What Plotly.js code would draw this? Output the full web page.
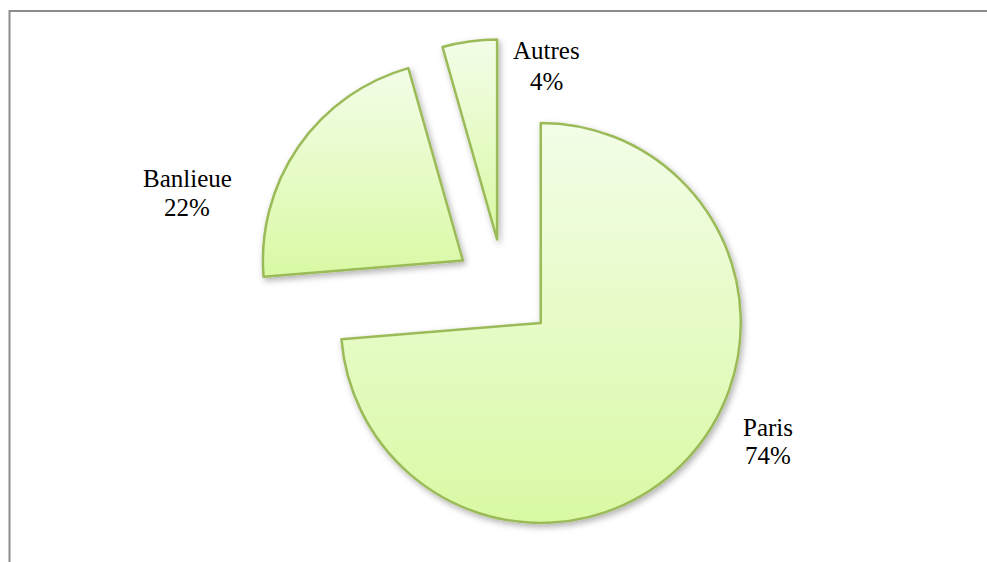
<!DOCTYPE html>
<html>
<head>
<meta charset="utf-8">
<script src="https://cdn.plot.ly/plotly-3.0.1.min.js"></script>
<style>html,body{margin:0;padding:0;background:#fff;}#chart{width:987px;height:562px;}</style>
</head>
<body>
<div id="chart"></div>
<script>
// Data
const labels = ["Paris", "Banlieue", "Autres"];
const values = [73.7, 21.9, 4.4];
const percentLabels = ["74%", "22%", "4%"];
const pulls = [0.25, 0.25, 0.25];

// Label positions (pixels in the 987x562 page)
const labelPos = [[768, 427, 455], [187, 178, 207], [546, 51, 81]];

const W = 987, H = 562;

const trace = {
  type: "pie",
  labels: labels,
  values: values,
  sort: false,
  direction: "clockwise",
  rotation: 0,
  pull: pulls,
  textinfo: "none",
  hoverinfo: "none",
  showlegend: false,
  marker: {
    colors: ["#e6fbc8", "#e6fbc8", "#e6fbc8"],
    line: { color: "#9bbb59", width: 2.5 }
  },
  domain: { x: [254 / W, 754 / W], y: [1 - 539 / H, 1 - 39 / H] }
};

const annotations = [];
labels.forEach((lab, i) => {
  const p = labelPos[i];
  annotations.push({ text: lab, x: p[0] / W, y: 1 - p[1] / H, xref: "paper", yref: "paper",
    xanchor: "center", yanchor: "middle", showarrow: false,
    font: { family: "Liberation Serif, Times New Roman, serif", size: 25, color: "#000" } });
  annotations.push({ text: percentLabels[i], x: p[0] / W, y: 1 - p[2] / H, xref: "paper", yref: "paper",
    xanchor: "center", yanchor: "middle", showarrow: false,
    font: { family: "Liberation Serif, Times New Roman, serif", size: 25, color: "#000" } });
});

const layout = {
  width: W, height: H,
  margin: { l: 0, r: 0, t: 0, b: 0 },
  paper_bgcolor: "#ffffff",
  plot_bgcolor: "#ffffff",
  annotations: annotations,
  shapes: [{
    type: "rect", xref: "paper", yref: "paper",
    x0: 9.5 / W, x1: 1.05, y0: -0.05, y1: 1 - 11 / H,
    line: { color: "#8c8c8c", width: 2 }, fillcolor: "rgba(0,0,0,0)", layer: "below"
  }]
};

Plotly.newPlot("chart", [trace], layout, { displayModeBar: false, staticPlot: true }).then(() => {
  const svg = document.querySelector("#chart .main-svg");
  const ns = "http://www.w3.org/2000/svg";
  let defs = svg.querySelector("defs");
  if (!defs) { defs = document.createElementNS(ns, "defs"); svg.insertBefore(defs, svg.firstChild); }
  const grad = document.createElementNS(ns, "linearGradient");
  grad.setAttribute("id", "sliceGrad");
  grad.setAttribute("x1", "0"); grad.setAttribute("y1", "0");
  grad.setAttribute("x2", "0"); grad.setAttribute("y2", "1");
  [["0%", "#f3fde8"], ["100%", "#d9f9a4"]].forEach(([o, c]) => {
    const s = document.createElementNS(ns, "stop");
    s.setAttribute("offset", o); s.setAttribute("stop-color", c);
    grad.appendChild(s);
  });
  defs.appendChild(grad);
  const filt = document.createElementNS(ns, "filter");
  filt.setAttribute("id", "sliceShadow");
  filt.setAttribute("x", "-20%"); filt.setAttribute("y", "-20%");
  filt.setAttribute("width", "140%"); filt.setAttribute("height", "140%");
  const ds = document.createElementNS(ns, "feDropShadow");
  ds.setAttribute("dx", "2"); ds.setAttribute("dy", "3");
  ds.setAttribute("stdDeviation", "3");
  ds.setAttribute("flood-color", "#000"); ds.setAttribute("flood-opacity", "0.3");
  filt.appendChild(ds);
  defs.appendChild(filt);
  document.querySelectorAll("#chart .slice path.surface").forEach(p => {
    p.style.fill = "url(#sliceGrad)";
    p.setAttribute("filter", "url(#sliceShadow)");
  });
});
</script>
</body>
</html>
